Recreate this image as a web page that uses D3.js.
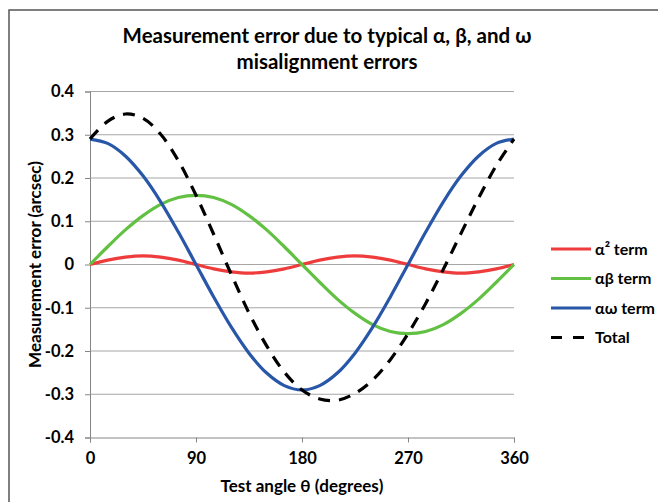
<!DOCTYPE html>
<html>
<head>
  <script src="https://cdn.jsdelivr.net/npm/d3@7"></script>
  <style>
    body { margin: 0; background: #fff; }
    text { font-family: Lato, "Open Sans", sans-serif; font-weight: bold; fill: #000; }
  </style>
</head>
<body>
  <div id="chart"></div>
  <script>
    // angles (degrees)
    const angles = [0, 15, 30, 45, 60, 75, 90, 105, 120, 135, 150, 165, 180,
      195, 210, 225, 240, 255, 270, 285, 300, 315, 330, 345, 360];
    const alpha2 = [0, 0.010, 0.017, 0.020, 0.017, 0.010, 0, -0.010, -0.017, -0.020, -0.017, -0.010, 0,
      0.010, 0.017, 0.020, 0.017, 0.010, 0, -0.010, -0.017, -0.020, -0.017, -0.010, 0];
    const alphaBeta = [0, 0.041, 0.080, 0.113, 0.139, 0.155, 0.160, 0.155, 0.139, 0.113, 0.080, 0.041, 0,
      -0.041, -0.080, -0.113, -0.139, -0.155, -0.160, -0.155, -0.139, -0.113, -0.080, -0.041, 0];
    const alphaOmega = [0.290, 0.280, 0.251, 0.205, 0.145, 0.075, 0, -0.075, -0.145, -0.205, -0.251, -0.280, -0.290,
      -0.280, -0.251, -0.205, -0.145, -0.075, 0, 0.075, 0.145, 0.205, 0.251, 0.280, 0.290];
    const total = [0.290, 0.331, 0.348, 0.338, 0.301, 0.240, 0.160, 0.070, -0.023, -0.112, -0.188, -0.249, -0.290,
      -0.311, -0.314, -0.298, -0.267, -0.220, -0.160, -0.090, -0.011, 0.072, 0.154, 0.229, 0.290];

    const xTicks = [0, 90, 180, 270, 360];
    const yTicks = [0.4, 0.3, 0.2, 0.1, 0, -0.1, -0.2, -0.3, -0.4];

    const series = [
      { name: "α² term", values: alpha2, color: "#ee3b3b", dash: null },
      { name: "αβ term", values: alphaBeta, color: "#62c043", dash: null },
      { name: "αω term", values: alphaOmega, color: "#2957a8", dash: null },
      { name: "Total", values: total, color: "#000", dash: "12,9" }
    ];

    const width = 658, height = 502;
    const svg = d3.select("#chart").append("svg")
      .attr("width", width).attr("height", height);

    // chart frame (right and bottom edges fall outside the picture)
    svg.append("rect")
      .attr("x", 9).attr("y", 10)
      .attr("width", 700).attr("height", 520)
      .attr("fill", "none").attr("stroke", "#555").attr("stroke-width", 1.5);

    const x = d3.scaleLinear().domain([0, 360]).range([90, 514]);
    const y = d3.scaleLinear().domain([-0.4, 0.4]).range([437.5, 91.5]);

    // gridlines
    svg.append("g").selectAll("line")
      .data(yTicks.filter(d => d !== -0.4))
      .join("line")
        .attr("x1", x(0)).attr("x2", x(360))
        .attr("y1", d => y(d)).attr("y2", d => y(d))
        .attr("stroke", "#a6a6a6").attr("stroke-width", 1);

    // Excel style labels: plain hyphen for negatives
    const fmt = d => d === 0 ? "0" : d3.format(".1f")(d).replace("−", "-");

    const yAxis = svg.append("g")
      .attr("transform", `translate(${x(0)},0)`)
      .call(d3.axisLeft(y).tickValues(yTicks).tickFormat(fmt).tickSize(5).tickPadding(11));
    yAxis.select(".domain").attr("stroke", "#868686");
    yAxis.selectAll(".tick line").attr("stroke", "#868686");
    yAxis.selectAll("text").style("font-size", "16.5px");

    const xAxis = svg.append("g")
      .attr("transform", `translate(0,${y(-0.4)})`)
      .call(d3.axisBottom(x).tickValues(xTicks).tickFormat(d3.format("d")).tickSize(5).tickPadding(10));
    xAxis.select(".domain").attr("stroke", "#868686");
    xAxis.selectAll(".tick line").attr("stroke", "#868686");
    xAxis.selectAll("text").style("font-size", "16.5px");

    const line = d3.line()
      .x((d, i) => x(angles[i]))
      .y(d => y(d))
      .curve(d3.curveCatmullRom);

    svg.append("g").selectAll("path")
      .data(series)
      .join("path")
        .attr("d", d => line(d.values))
        .attr("fill", "none")
        .attr("stroke", d => d.color)
        .attr("stroke-width", 3.2)
        .attr("stroke-dasharray", d => d.dash);

    // title
    svg.append("text")
      .attr("x", 327).attr("y", 43)
      .attr("text-anchor", "middle")
      .style("font-size", "20.5px")
      .text("Measurement error due to typical α, β, and ω");
    svg.append("text")
      .attr("x", 327).attr("y", 69)
      .attr("text-anchor", "middle")
      .style("font-size", "20.5px")
      .text("misalignment errors");

    // axis titles
    svg.append("text")
      .attr("x", x(180)).attr("y", 492)
      .attr("text-anchor", "middle")
      .style("font-size", "17px")
      .text("Test angle θ (degrees)");
    svg.append("text")
      .attr("transform", `translate(41,${y(0)}) rotate(-90)`)
      .attr("text-anchor", "middle")
      .style("font-size", "17px")
      .text("Measurement error (arcsec)");

    // legend
    const legend = svg.append("g").selectAll("g")
      .data(series)
      .join("g")
        .attr("transform", (d, i) => `translate(551,${249 + i * 29.5})`);
    legend.append("line")
      .attr("x1", 0).attr("x2", 40)
      .attr("stroke", d => d.color)
      .attr("stroke-width", 3.2)
      .attr("stroke-dasharray", d => d.dash ? "11,11" : null);
    legend.append("text")
      .attr("x", 44).attr("dy", "0.35em")
      .style("font-size", "16px")
      .text(d => d.name);
  </script>
</body>
</html>
